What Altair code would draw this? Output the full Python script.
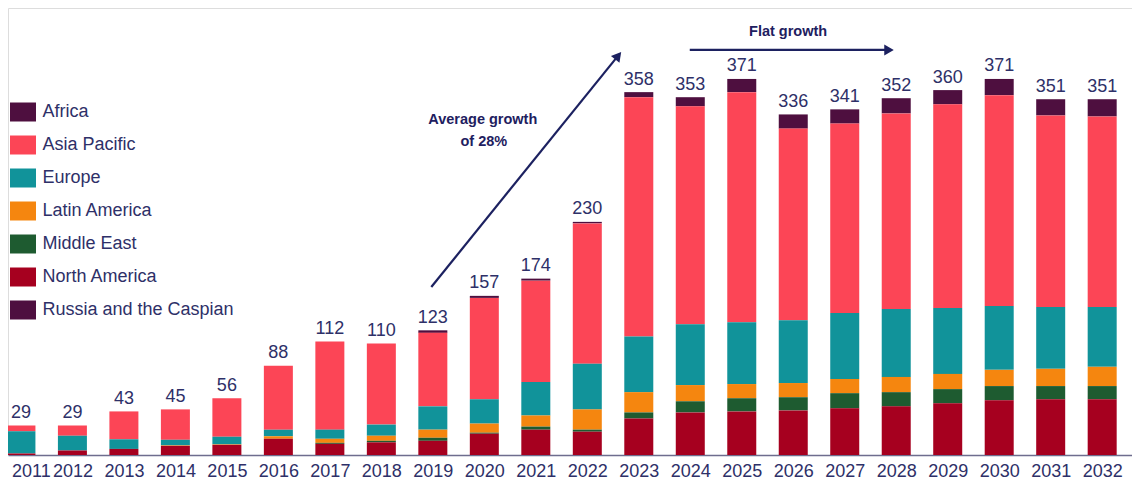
import altair as alt
import pandas as pd

years = list(range(2011, 2033))
regions = ["Africa", "Asia Pacific", "Europe", "Latin America", "Middle East",
           "North America", "Russia and the Caspian"]
colors = ["#4E0F3F", "#FC4556", "#11939A", "#F5860F", "#1E5B30", "#A6001F", "#4E0F3F"]
stack_rank = {"Russia and the Caspian": 0, "North America": 1, "Middle East": 2,
              "Latin America": 3, "Europe": 4, "Asia Pacific": 5, "Africa": 6}

africa        = [0, 0, 0, 0, 0, 0, 0, 0, 2.5, 2, 2, 1.5, 5, 9, 13, 14, 14, 15, 14, 16, 16, 17]
asia_pacific  = [5.5, 10, 27.5, 30, 38, 63, 87, 80, 72.5, 100, 100, 138.5, 236, 215, 227, 189, 187, 193, 201, 208, 189, 188]
europe        = [22, 14.5, 9.5, 5.5, 7.5, 6.5, 9, 11, 23, 24, 33, 45, 55, 60, 61, 62, 65, 67, 65, 63, 61, 59]
latin_america = [0, 0, 0, 0.5, 0.5, 2.5, 4, 5, 8, 9, 11, 20, 20, 16, 14, 14, 14, 15, 15, 16, 17, 19]
middle_east   = [0, 0, 0, 0, 0, 0, 1, 1.5, 3, 1, 3, 2, 6, 11, 13, 13, 15, 14, 14, 14, 13, 13]
north_america = [1.5, 4.5, 6, 9, 10, 16, 11, 12.5, 14, 21, 25, 23, 36, 42, 43, 44, 46, 48, 51, 54, 55, 55]
russia        = [0] * 22
totals        = [29, 29, 43, 45, 56, 88, 112, 110, 123, 157, 174, 230,
                 358, 353, 371, 336, 341, 352, 360, 371, 351, 351]

series = {"Africa": africa, "Asia Pacific": asia_pacific, "Europe": europe,
          "Latin America": latin_america, "Middle East": middle_east,
          "North America": north_america, "Russia and the Caspian": russia}

rows = []
for reg, vals in series.items():
    for y, v in zip(years, vals):
        rows.append({"year": y, "region": reg, "value": v, "rank": stack_rank[reg]})
df = pd.DataFrame(rows)
tot_df = pd.DataFrame({"year": years, "value": totals})

# annotation anchors (in data units: fractional year, value)
arrow_up = pd.DataFrame({"year": [2018.97], "value": [165.7], "year2": [2022.60], "value2": [394.0]})
arrow_up_head = pd.DataFrame({"year": [2022.60], "value": [394.0]})
arrow_flat = pd.DataFrame({"year": [2023.99], "value": [399.6], "year2": [2027.86], "value2": [399.6]})
arrow_flat_head = pd.DataFrame({"year": [2027.86], "value": [399.6]})
notes = pd.DataFrame({"year": [2019.97, 2019.99, 2025.90],
                      "value": [330.5, 308.8, 417.6],
                      "label": ["Average growth", "of 28%", "Flat growth"]})

FONT = "Liberation Sans"
NAVY = "#2E3068"
ARROW = "#1C2160"

xscale = alt.Scale(domain=[2010.846, 2032.482], nice=False, zero=False)
yscale = alt.Scale(domain=[0, 441], nice=False)

x_axis = alt.Axis(values=years, format="d", ticks=False, grid=False, title=None,
                  labelFont=FONT, labelFontSize=18, labelColor=NAVY, labelPadding=7,
                  labelOverlap=False, labelFlush=False, domainColor="#6E6D8E", domainWidth=1.5,
                  labelOffset=alt.condition("datum.value == 2011", alt.value(10), alt.value(0)))

bars = alt.Chart(df).mark_bar(size=29).encode(
    x=alt.X("year:Q", scale=xscale, axis=x_axis),
    y=alt.Y("value:Q", stack="zero", scale=yscale, axis=None),
    color=alt.Color("region:N", scale=alt.Scale(domain=regions, range=colors),
                    legend=alt.Legend(orient="none", legendX=5.5, legendY=94.5, title=None,
                                      symbolType="M-1.368,-1H1.368V1H-1.368Z", symbolSize=361,
                                      symbolStrokeWidth=0, symbolOpacity=1,
                                      labelFont=FONT, labelFontSize=18, labelColor=NAVY,
                                      rowPadding=14, labelOffset=10, padding=0, labelLimit=400)),
    order=alt.Order("rank:Q", sort="ascending"),
)

labels = alt.Chart(tot_df).mark_text(font=FONT, fontSize=18, color=NAVY, dy=-7.5,
                                     baseline="alphabetic", align="center").encode(
    x=alt.X("year:Q", scale=xscale),
    y=alt.Y("value:Q", scale=yscale),
    text=alt.Text("value:Q", format="d"),
)

up_line = alt.Chart(arrow_up).mark_rule(color=ARROW, strokeWidth=2.2).encode(
    x=alt.X("year:Q", scale=xscale), y=alt.Y("value:Q", scale=yscale),
    x2="year2:Q", y2="value2:Q")
up_head = alt.Chart(arrow_up_head).mark_point(shape="triangle-up", angle=39, size=120,
                                               filled=True, color=ARROW, opacity=1).encode(
    x=alt.X("year:Q", scale=xscale), y=alt.Y("value:Q", scale=yscale))
flat_line = alt.Chart(arrow_flat).mark_rule(color=ARROW, strokeWidth=2.2).encode(
    x=alt.X("year:Q", scale=xscale), y=alt.Y("value:Q", scale=yscale),
    x2="year2:Q", y2="value2:Q")
flat_head = alt.Chart(arrow_flat_head).mark_point(shape="triangle-right", size=120,
                                                   filled=True, color=ARROW, opacity=1).encode(
    x=alt.X("year:Q", scale=xscale), y=alt.Y("value:Q", scale=yscale))
note_text = alt.Chart(notes).mark_text(font=FONT, fontSize=14.5, fontWeight="bold",
                                       color="#1E2060", align="center", baseline="middle").encode(
    x=alt.X("year:Q", scale=xscale), y=alt.Y("value:Q", scale=yscale), text="label:N")

chart = alt.layer(bars, labels, up_line, up_head, flat_line, flat_head, note_text).properties(
    width=1124, height=447,
    autosize=alt.AutoSizeParams(type="none"),
    padding={"left": 0, "top": 0, "right": 0, "bottom": 37},
).configure_view(stroke=None).configure(background="white")

chart.save("out.html", embed_options={"renderer": "svg", "actions": False})
